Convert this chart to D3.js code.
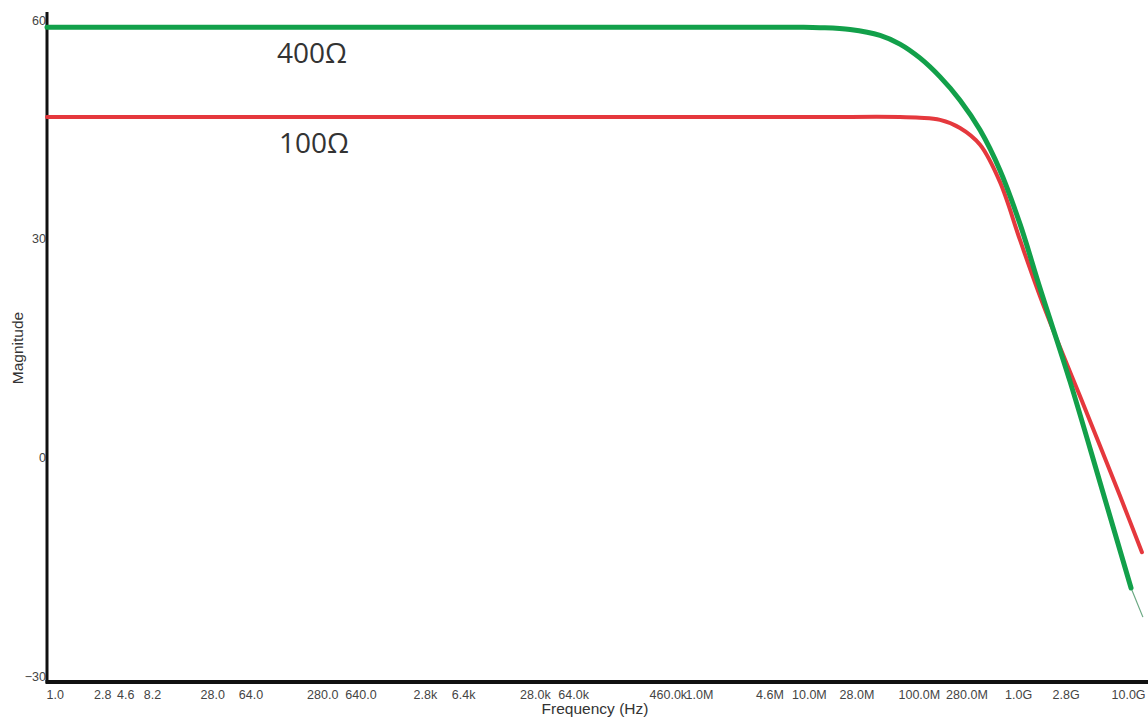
<!DOCTYPE html>
<html>
<head>
<meta charset="utf-8">
<script src="https://cdn.jsdelivr.net/npm/d3@7/dist/d3.min.js"></script>
<style>
  html, body { margin: 0; padding: 0; background: #fff; }
  svg { display: block; }
</style>
</head>
<body>
<svg id="chart" width="1148" height="719"></svg>
<script>
// Frequency response (magnitude in dB) for two load resistances
const freqTicks = [1, 2.8, 4.6, 8.2, 28, 64, 280, 640, 2.8e3, 6.4e3, 28e3, 64e3, 460e3, 1e6,
                   4.6e6, 10e6, 28e6, 100e6, 280e6, 1e9, 2.8e9, 10e9];
const freqTickLabels = ["1.0", "2.8", "4.6", "8.2", "28.0", "64.0", "280.0", "640.0", "2.8k", "6.4k",
                        "28.0k", "64.0k", "460.0k", "1.0M", "4.6M", "10.0M", "28.0M", "100.0M",
                        "280.0M", "1.0G", "2.8G", "10.0G"];
const magTicks = [60, 30, 0, -30];

// 400 Ω load
const freq400 = [1, 1e3, 1e6, 1.175e7, 1.81e7, 3.47e7, 6.64e7, 1.02e8, 1.57e8, 2.43e8, 3.74e8,
                 5.77e8, 8.87e8, 1.37e9, 2.11e9, 4.04e9, 7.71e9, 1.51e10];
const mag400  = [59.0, 59.0, 59.0, 59.0, 58.95, 58.7, 57.9, 56.7, 54.8, 52.2, 49.0,
                 44.9, 39.4, 32.0, 23.2, 10.4, -3.4, -17.9];
// faint trailing segment of the 400 Ω trace
const freq400Tail = [1.51e10, 1.95e10];
const mag400Tail  = [-17.9, -21.9];

// 100 Ω load
const freq100 = [1, 1e3, 1e6, 1.81e7, 1.02e8, 1.57e8, 2.43e8, 3.74e8, 5.77e8, 8.87e8,
                 1.37e9, 2.11e9, 3.25e9, 5.01e9, 7.71e9, 1.19e10, 1.91e10];
const mag100  = [46.7, 46.7, 46.7, 46.7, 46.7, 46.6, 46.3, 45.2, 42.9, 37.8,
                 29.8, 22.1, 15.1, 8.4, 1.6, -5.3, -13.0];

const svg = d3.select("#chart");
const W = 1148, H = 719;

const x = d3.scaleLog().domain([1, 1e10]).range([47, 1112]);
const y = d3.scaleLinear().domain([-30.8, 61.1]).range([682, 12]);

// axis tick labels
const xAxis = d3.axisBottom(x)
  .tickValues(freqTicks)
  .tickFormat((d, i) => freqTickLabels[i])
  .tickSize(0)
  .tickPadding(8);
const gx = svg.append("g").attr("transform", `translate(0,${y.range()[0]})`).call(xAxis);
gx.select(".domain").remove();
gx.selectAll("text")
  .attr("text-anchor", "start")
  .attr("dx", "-1")
  .attr("font-family", "'Liberation Sans', Arial, sans-serif")
  .attr("font-size", 12.5)
  .attr("fill", "#444");

const yAxis = d3.axisLeft(y).tickValues(magTicks).tickFormat(d3.format("d")).tickSize(0).tickPadding(1);
const gy = svg.append("g").attr("transform", `translate(${x.range()[0]},0)`).call(yAxis);
gy.select(".domain").remove();
gy.selectAll("text")
  .attr("font-family", "'Liberation Sans', Arial, sans-serif")
  .attr("font-size", 12.5)
  .attr("fill", "#444");

// axis lines
svg.append("line")
  .attr("x1", x.range()[0]).attr("x2", x.range()[0])
  .attr("y1", y.range()[1]).attr("y2", y.range()[0] + 1)
  .attr("stroke", "#111").attr("stroke-width", 3);
svg.append("line")
  .attr("x1", x.range()[0] - 1.5).attr("x2", W)
  .attr("y1", y.range()[0]).attr("y2", y.range()[0])
  .attr("stroke", "#111").attr("stroke-width", 4);

// axis titles
svg.append("text")
  .attr("x", 595).attr("y", 714)
  .attr("text-anchor", "middle")
  .attr("font-family", "'Liberation Sans', Arial, sans-serif")
  .attr("font-size", 15.5)
  .attr("fill", "#333")
  .text("Frequency (Hz)");
svg.append("text")
  .attr("transform", "translate(23,348) rotate(-90)")
  .attr("text-anchor", "middle")
  .attr("font-family", "'Liberation Sans', Arial, sans-serif")
  .attr("font-size", 15.5)
  .attr("fill", "#333")
  .text("Magnitude");

// traces
const line = d3.line()
  .x(d => x(d[0]))
  .y(d => y(d[1]))
  .curve(d3.curveCatmullRom.alpha(0.5));

const zip = (a, b) => a.map((v, i) => [v, b[i]]);

svg.append("path")
  .datum(zip(freq100, mag100))
  .attr("d", line)
  .attr("fill", "none")
  .attr("stroke", "#e5383d")
  .attr("stroke-width", 4)
  .attr("stroke-linecap", "round");

svg.append("path")
  .datum(zip(freq400Tail, mag400Tail))
  .attr("d", line)
  .attr("fill", "none")
  .attr("stroke", "#6aa882")
  .attr("stroke-width", 1.2);

svg.append("path")
  .datum(zip(freq400, mag400))
  .attr("d", line)
  .attr("fill", "none")
  .attr("stroke", "#12a04a")
  .attr("stroke-width", 5)
  .attr("stroke-linecap", "round");

// trace labels
svg.append("text")
  .attr("x", 277).attr("y", 63)
  .attr("font-family", "'Open Sans', sans-serif")
  .attr("font-size", 28)
  .attr("fill", "#333")
  .text("400Ω");
svg.append("text")
  .attr("x", 279).attr("y", 153)
  .attr("font-family", "'Open Sans', sans-serif")
  .attr("font-size", 28)
  .attr("fill", "#333")
  .text("100Ω");
</script>
</body>
</html>
